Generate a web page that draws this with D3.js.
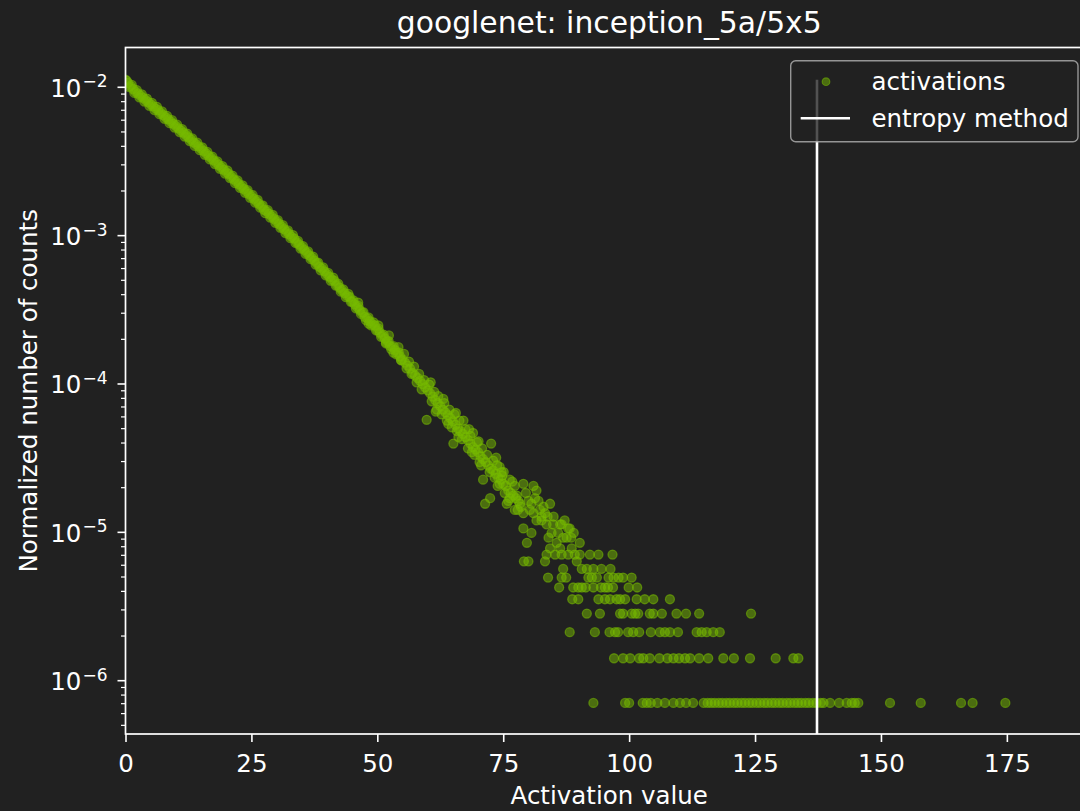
<!DOCTYPE html>
<html>
<head>
<meta charset="utf-8">
<script src="https://cdn.jsdelivr.net/npm/d3@7"></script>
<style>
  html, body { margin: 0; padding: 0; background: #212121; }
  svg { display: block; }
  text { font-family: "DejaVu Sans", "Liberation Sans", sans-serif; fill: #ffffff; }
</style>
</head>
<body>
<svg id="chart" width="1080" height="811"></svg>
<script>
// Histogram of layer activations: bin centre (activation value) and raw count per bin.
const activationValues = [
  0, 0.5, 1, 1.5, 2, 2.5, 3, 3.5, 4, 4.5, 5, 5.5, 6, 6.5, 7, 7.5, 8, 8.5, 9, 9.5,
  10, 10.5, 11, 11.5, 12, 12.5, 13, 13.5, 14, 14.5, 15, 15.5, 16, 16.5, 17, 17.5, 18, 18.5, 19, 19.5,
  20, 20.5, 21, 21.5, 22, 22.5, 23, 23.5, 24, 24.5, 25, 25.5, 26, 26.5, 27, 27.5, 28, 28.5, 29, 29.5,
  30, 30.5, 31, 31.5, 32, 32.5, 33, 33.5, 34, 34.5, 35, 35.5, 36, 36.5, 37, 37.5, 38, 38.5, 39, 39.5,
  40, 40.5, 41, 41.5, 42, 42.5, 43, 43.5, 44, 44.5, 45, 45.5, 46, 46.5, 47, 47.5, 48, 48.5, 49, 49.5,
  50, 50.5, 51, 51.5, 52, 52.5, 53, 53.5, 54, 54.5, 55, 55.5, 56, 56.5, 57, 57.5, 58, 58.5, 59, 59.5,
  60, 60.5, 61, 61.5, 62, 62.5, 63, 63.5, 64, 64.5, 65, 65.5, 66, 66.5, 67, 67.5, 68, 68.5, 69, 69.5,
  70, 70.5, 71, 71.5, 72, 72.5, 73, 73.5, 74, 74.5, 75, 75.5, 76, 76.5, 77, 77.5, 78,
  // neighbouring bins on the upper edge of the dense band
  0.25, 1.25, 2.25, 3.25, 4.25, 5.25, 6.25, 7.25, 8.25, 9.25, 10.25, 11.25, 12.25, 13.25, 14.25,
  15.25, 16.25, 17.25, 18.25, 19.25, 20.25, 21.25, 22.25, 23.25, 24.25, 25.25, 26.25, 27.25, 28.25,
  29.25, 30.25, 31.25, 32.25, 33.25, 34.25, 35.25, 36.25, 37.25, 38.25, 39.25, 40.25, 41.25, 42.25,
  43.25, 44.25, 45.25, 46.25, 47.25, 48.25, 49.25, 50.25, 51.25, 52.25, 53.25, 54.25,
  // neighbouring bins on the lower edge of the dense band
  0.75, 1.75, 2.75, 3.75, 4.75, 5.75, 6.75, 7.75, 8.75, 9.75, 10.75, 11.75, 12.75, 13.75, 14.75,
  15.75, 16.75, 17.75, 18.75, 19.75, 20.75, 21.75, 22.75, 23.75, 24.75, 25.75, 26.75, 27.75, 28.75,
  29.75, 30.75, 31.75, 32.75, 33.75, 34.75, 35.75, 36.75, 37.75, 38.75, 39.75, 40.75, 41.75, 42.75,
  43.75, 44.75, 45.75, 46.75, 47.75, 48.75, 49.75, 50.75, 51.75, 52.75, 53.75, 54.75,
  // scattered bins around the main band
  46.2, 48.3, 50.2, 51.7, 52.3, 53.2, 54.2, 54.7,
  55.3, 55.8, 56.3, 56.8, 57.3, 57.8, 58.3, 58.8, 59.3, 59.8, 60.3, 60.8, 61.3, 61.8, 62.1, 62.8,
  63.3, 63.8, 64.3, 64.8, 65.1, 65.3, 65.8, 66.3, 66.8, 67.1, 67.5, 68.0, 68.5, 69.0, 69.3, 69.8,
  70.3, 70.8, 71.0, 71.4, 71.8, 72.3, 72.4, 72.6, 73.0, 73.3, 73.8, 74.3, 74.3, 74.8,
  60.6, 61.6, 63.1, 64.1, 65.6, 66.1, 68.2, 68.8, 70.1, 70.6, 73.6, 73.9, 75.1, 76.0, 76.8, 77.9,
  74.7, 75.3, 75.7, 76.3, 76.3, 77.3, 77.7, 77.3, 78.3, 79.0, 79.0, 79.0, 80.0, 80.6, 80.6, 81.0,
  81.0, 81.6, 81.6, 82.0, 82.6, 82.6, 83.3, 83.6, 84.3, 84.6, 84.9, 86.3, 86.6, 87.9, 88.2,
  78.5, 79.5, 80.3, 81.3, 82.3, 83.0, 83.8, 84.0, 85.0, 85.9, 86.9, 87.2, 88.5, 89.0,
  79.7, 85.6, 87.6, 90.2,
  84.3, 86.3, 88.6,
  83.6, 85.3, 86.6, 87.9, 89.2, 90.2, 92.2, 93.9, 96.7,
  79.1, 80.0, 83.3, 89.6,
  86.9, 90.6, 91.6, 92.9, 94.5, 96.3,
  83.9, 86.6, 87.5, 91.9, 92.6, 93.6, 95.9, 96.9, 97.9, 98.8, 100.5,
  86.1, 88.9, 89.9, 90.6, 91.4, 92.9, 94.4, 95.2, 95.8, 96.8, 99.9, 101.6,
  88.7, 89.9, 93.9, 95.2, 96.2, 97.5, 98.2, 99.2, 101.5, 103.1, 104.8, 108.1,
  91.6, 94.2, 98.2, 98.8, 100.5, 101.2, 101.8, 104.1, 104.8, 106.5, 109.4, 111.3, 113.9, 124.2,
  88.2, 93.2, 96.1, 97.2, 97.8, 99.8, 100.8, 102.0, 104.3, 106.1, 107.1, 108.1, 109.7, 113.4, 114.4,
  115.4, 116.7, 118.0,
  97.0, 98.8, 100.2, 102.0, 102.8, 104.1, 106.0, 107.6, 108.8, 109.9, 111.1, 112.1, 113.9, 115.7,
  118.7, 120.8, 124.0, 129.1, 132.6, 133.6,
  92.9, 99.2, 100.0, 102.7, 103.5, 104.3, 105.6, 107.1, 108.8, 110.1, 111.3, 112.7,
  114.8, 115.6, 116.3, 117.0, 117.8, 118.5, 119.3, 120.0, 120.8, 121.5, 122.3, 123.0, 123.8, 124.5,
  125.3, 126.0, 126.8, 127.5, 128.3, 129.0, 129.8, 130.5, 131.3, 132.0, 132.8, 133.5, 134.2, 135.0,
  135.7, 136.5, 137.2, 138.0, 138.6, 139.9, 141.7, 143.2, 144.2, 144.8, 145.5, 151.8, 157.9, 165.9,
  168.2, 174.7
];
const binCounts = [
  15900, 15100, 14400, 13750, 13200, 12790, 12380, 11980, 11590, 11220, 10850, 10500, 10150, 9900, 9491, 9175, 8868, 8571, 8285, 8008,
  7736, 7473, 7219, 6972, 6733, 6501, 6276, 6000, 5848, 5643, 5444, 5253, 5068, 4888, 4714, 4546, 4384, 4226, 4074, 3926,
  3784, 3680, 3513, 3384, 3261, 3141, 3024, 2912, 2803, 2698, 2597, 2500, 2406, 2314, 2226, 2110, 2060, 1981, 1905, 1831,
  1760, 1692, 1626, 1562, 1502, 1443, 1386, 1350, 1278, 1227, 1178, 1131, 1085, 1041, 1000, 959, 920, 870, 847, 812,
  778, 746, 715, 700, 657, 630, 603, 578, 554, 545, 508, 486, 466, 446, 427, 400, 391, 374, 358, 350,
  327, 313, 299, 286, 274, 255, 250, 239, 228, 217, 207, 197, 188, 179, 168, 161, 155, 148, 141, 134,
  128, 122, 116, 110, 105, 100, 95, 91, 87, 83, 79, 75, 71, 68, 65, 62, 59, 56, 53, 51,
  49, 46, 44, 42, 40, 38, 37, 35, 33, 32, 30, 29, 27, 26, 25, 24, 23,
  15600, 14640, 13515, 12665, 11860, 11100, 10425, 9705, 9070, 8475, 7910, 7380, 6880, 6385, 5975,
  5565, 5175, 4815, 4475, 4160, 3880, 3585, 3330, 3085, 2860, 2650, 2455, 2255, 2100,
  1945, 1795, 1660, 1530, 1425, 1300, 1200, 1105, 1020, 930, 863, 792, 736, 669,
  614, 571, 517, 474, 430, 397, 368, 333, 304, 275, 254, 231,
  14160, 12935, 12080, 11315, 10595, 9910, 9310, 8660, 8090, 7555, 7050, 6580, 6130, 5685, 5320,
  4955, 4610, 4285, 3985, 3700, 3450, 3190, 2960, 2745, 2540, 2355, 2180, 2000, 1865,
  1725, 1595, 1470, 1358, 1260, 1155, 1064, 980, 902, 824, 763, 701, 651, 592,
  543, 506, 457, 419, 380, 351, 325, 294, 269, 243, 224, 204,
  500, 360, 350, 265, 300, 230, 250, 205,
  225, 180, 200, 165, 185, 145, 165, 130, 150, 81, 140, 108, 125, 95, 117, 88,
  105, 80, 95, 72, 56, 88, 68, 80, 60, 80, 70, 52, 63, 66, 47, 57,
  42, 52, 32, 22, 47, 36, 24, 56, 43, 33, 40, 39, 30, 34,
  145, 92, 112, 76, 90, 62, 70, 49, 58, 40, 45, 29, 36, 23, 31, 20,
  36, 26, 22, 32, 24, 29, 25, 20, 22, 30, 19, 15, 23, 22, 14, 29,
  19, 27, 17, 23, 18, 17, 19, 16, 22, 14, 16, 16, 16, 15, 15,
  21, 26, 20, 24, 20, 21, 18, 13, 18, 14, 13, 17, 13, 14,
  12, 12, 13, 12,
  11, 11, 11,
  10, 10, 10, 10, 10, 10, 10, 10, 10,
  9, 9, 9, 9,
  8, 8, 8, 8, 8, 8,
  7, 7, 7, 7, 7, 7, 7, 7, 7, 7, 7,
  6, 6, 6, 6, 6, 6, 6, 6, 6, 6, 6, 6,
  5, 5, 5, 5, 5, 5, 5, 5, 5, 5, 5, 5,
  4, 4, 4, 4, 4, 4, 4, 4, 4, 4, 4, 4, 4, 4,
  3, 3, 3, 3, 3, 3, 3, 3, 3, 3, 3, 3, 3, 3, 3,
  3, 3, 3,
  2, 2, 2, 2, 2, 2, 2, 2, 2, 2, 2, 2, 2, 2,
  2, 2, 2, 2, 2, 2,
  1, 1, 1, 1, 1, 1, 1, 1, 1, 1, 1, 1,
  1, 1, 1, 1, 1, 1, 1, 1, 1, 1, 1, 1, 1, 1,
  1, 1, 1, 1, 1, 1, 1, 1, 1, 1, 1, 1, 1, 1,
  1, 1, 1, 1, 1, 1, 1, 1, 1, 1, 1, 1, 1, 1,
  1, 1
];
const totalCount = 1412000;          // number of activations in the histogram
const thresholdValue = 137.3;        // saturation threshold found by the entropy method
const xTickValues = [0, 25, 50, 75, 100, 125, 150, 175];
const yTickExponents = [-2, -3, -4, -5, -6];
const seriesNames = ["activations", "entropy method"];
const chartTitle = "googlenet: inception_5a/5x5";
const xAxisTitle = "Activation value";
const yAxisTitle = "Normalized number of counts";

const green = "#76b900";
const ink = "#ffffff";
const labelSize = 24.5;

const svg = d3.select("#chart");
const plot = { left: 125.5, top: 47.5, right: 1095, bottom: 734 };

const x = d3.scaleLinear().domain([0, 192.5]).range([plot.left, plot.right]);
const y = d3.scaleLog().domain([4.372e-7, 1.8545e-2]).range([plot.bottom, plot.top]);

const points = activationValues.map((v, i) => ({ v, p: binCounts[i] / totalCount }));

// clip marks to the axes box
svg.append("defs").append("clipPath").attr("id", "plotClip")
  .append("rect")
  .attr("x", plot.left).attr("y", plot.top)
  .attr("width", plot.right - plot.left).attr("height", plot.bottom - plot.top);

const marks = svg.append("g").attr("clip-path", "url(#plotClip)");

marks.selectAll("circle.act")
  .data(points)
  .join("circle")
  .attr("class", "act")
  .attr("cx", d => x(d.v))
  .attr("cy", d => y(d.p))
  .attr("r", 4.5)
  .attr("fill", green)
  .attr("fill-opacity", 0.5)
  .attr("stroke", green)
  .attr("stroke-opacity", 0.55)
  .attr("stroke-width", 1.3);

// vertical threshold line, from the axis floor up to the tallest bin
const peak = d3.max(points, d => d.p);
marks.append("line")
  .attr("x1", x(thresholdValue)).attr("x2", x(thresholdValue))
  .attr("y1", plot.bottom).attr("y2", y(peak))
  .attr("stroke", ink).attr("stroke-width", 2.6);

// frame
svg.append("rect")
  .attr("x", plot.left).attr("y", plot.top)
  .attr("width", plot.right - plot.left).attr("height", plot.bottom - plot.top)
  .attr("fill", "none").attr("stroke", ink).attr("stroke-width", 1.7);

// x axis
const xAxis = d3.axisBottom(x).tickValues(xTickValues).tickSize(8).tickPadding(4)
  .tickFormat(d3.format("d"));
const gx = svg.append("g").attr("transform", `translate(0,${plot.bottom})`).call(xAxis);
gx.select(".domain").remove();
gx.selectAll(".tick line").attr("stroke", ink).attr("stroke-width", 1.6);
gx.selectAll(".tick text")
  .attr("fill", ink).attr("font-size", labelSize).attr("dy", null).attr("y", 38)
  .style("font-family", '"DejaVu Sans", sans-serif');

// y axis: decades with superscript exponents, plus minor ticks
const gy = svg.append("g");
const [yLo, yHi] = y.domain();
const minorTicks = [];
for (let e = -7; e <= -2; e++) {
  for (let m = 2; m <= 9; m++) {
    const val = m * Math.pow(10, e);
    if (val >= yLo && val <= yHi) minorTicks.push(val);
  }
}
gy.selectAll("line.minor").data(minorTicks).join("line")
  .attr("class", "minor")
  .attr("x1", plot.left - 4.5).attr("x2", plot.left)
  .attr("y1", d => y(d)).attr("y2", d => y(d))
  .attr("stroke", ink).attr("stroke-width", 1.2);

gy.selectAll("line.major").data(yTickExponents).join("line")
  .attr("class", "major")
  .attr("x1", plot.left - 8).attr("x2", plot.left)
  .attr("y1", d => y(Math.pow(10, d))).attr("y2", d => y(Math.pow(10, d)))
  .attr("stroke", ink).attr("stroke-width", 1.6);

const yLabels = gy.selectAll("text.ylab").data(yTickExponents).join("text")
  .attr("class", "ylab")
  .attr("text-anchor", "end")
  .attr("x", 107.5)
  .attr("y", d => y(Math.pow(10, d)) + 9.5)
  .attr("font-size", labelSize);
yLabels.append("tspan").text("10");
yLabels.append("tspan")
  .attr("font-size", 17)
  .attr("dy", -9.5)
  .attr("dx", 1)
  .text(d => "\u2212" + Math.abs(d));

// titles
svg.append("text")
  .attr("x", (plot.left + plot.right) / 2 - 1).attr("y", 33)
  .attr("text-anchor", "middle").attr("font-size", 29.8)
  .text(chartTitle);

svg.append("text")
  .attr("x", (plot.left + plot.right) / 2 - 1).attr("y", 804)
  .attr("text-anchor", "middle").attr("font-size", labelSize)
  .text(xAxisTitle);

svg.append("text")
  .attr("transform", `translate(37,${(plot.top + plot.bottom) / 2}) rotate(-90)`)
  .attr("text-anchor", "middle").attr("font-size", labelSize)
  .text(yAxisTitle);

// legend
const legend = svg.append("g");
legend.append("rect")
  .attr("x", 790.7).attr("y", 60.7).attr("width", 287.3).attr("height", 81)
  .attr("rx", 5).attr("ry", 5)
  .attr("fill", "#212121").attr("fill-opacity", 0.78)
  .attr("stroke", "#aaaaaa").attr("stroke-opacity", 0.85).attr("stroke-width", 1.4);

legend.append("circle")
  .attr("cx", 826).attr("cy", 81.7).attr("r", 3.8)
  .attr("fill", green).attr("fill-opacity", 0.5)
  .attr("stroke", green).attr("stroke-opacity", 0.55).attr("stroke-width", 1.2);
legend.append("line")
  .attr("x1", 800.7).attr("x2", 850).attr("y1", 118.3).attr("y2", 118.3)
  .attr("stroke", ink).attr("stroke-width", 2.6);

legend.selectAll("text.leg").data(seriesNames).join("text")
  .attr("class", "leg")
  .attr("x", 871.5)
  .attr("y", (d, i) => 90 + i * 36.5)
  .attr("font-size", labelSize)
  .text(d => d);
</script>
</body>
</html>
